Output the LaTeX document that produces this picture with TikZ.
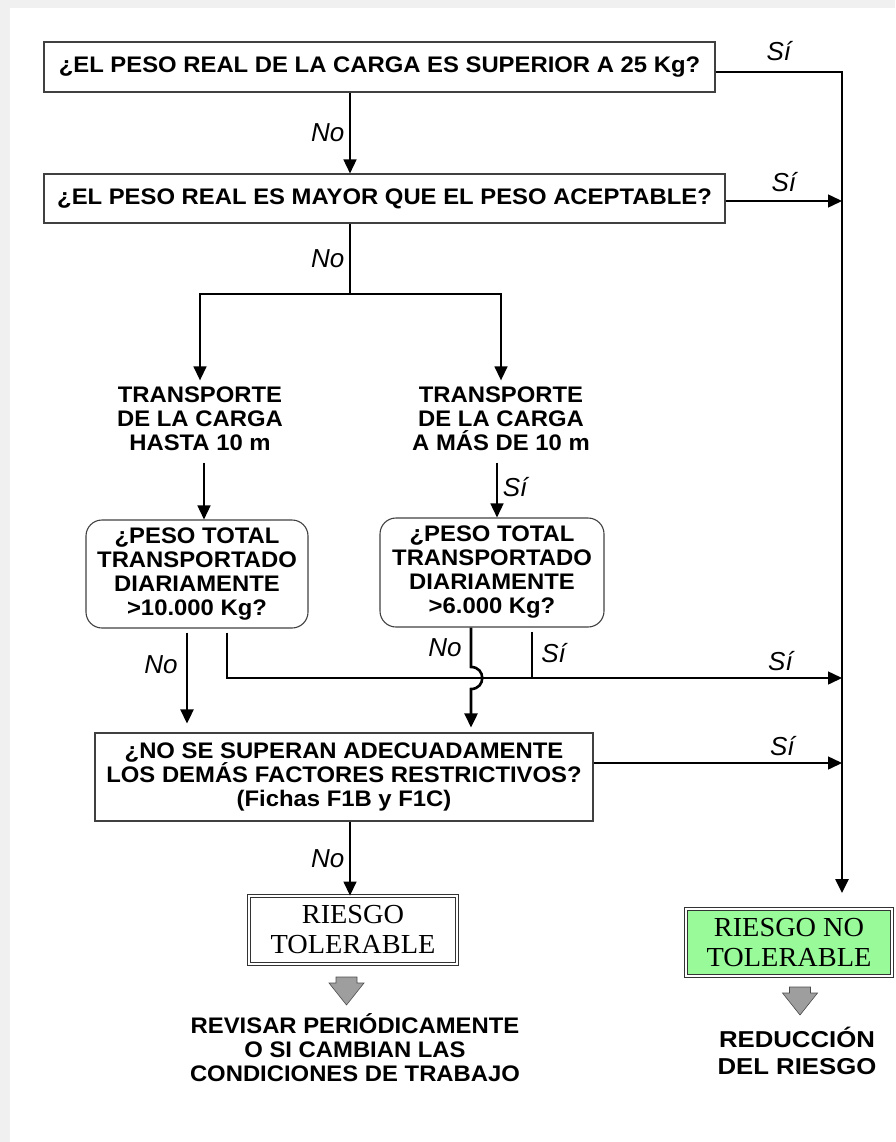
\documentclass[tikz,border=0pt]{standalone}
\usepackage{fontspec}
\setmainfont{Liberation Sans}
\newfontfamily\boxfont{Liberation Sans}[FakeStretch=1.06]
\newfontfamily\widefont{Liberation Sans}[FakeStretch=1.12]
\newfontfamily\riskfont{Liberation Serif}[FakeStretch=1.03]
\usetikzlibrary{arrows.meta,calc}
\definecolor{riskgreen}{RGB}{153,250,153}
\tikzset{
  qbox/.style={draw=black!75,line width=1.1pt,inner sep=0pt,align=center,
    font=\boxfont\bfseries\fontsize{22.5}{24}\selectfont},
  plain/.style={inner sep=6pt,align=center,font=\boxfont\bfseries\fontsize{22.5}{24}\selectfont},
  riskbox/.style={draw=black!80,double,double distance=1.6pt,line width=.9pt,inner sep=0pt,
    align=center,font=\riskfont\fontsize{27.5}{30}\selectfont},
  lbl/.style={font=\itshape\fontsize{26}{26}\selectfont,inner sep=2pt},
  ln/.style={line width=1.5pt},
  thk/.style={line width=2.6pt},
  >={Triangle[length=14pt,width=13pt]}
}
\begin{document}
\begin{tikzpicture}[x=1pt,y=-1pt]
    \useasboundingbox (0,0) rectangle (895,1142);
    \fill[black!6] (0,0) rectangle (895,8);
    \fill[black!6] (0,0) rectangle (10,1142);
    \node[qbox,minimum width=671,minimum height=50] (q1) at (379.5,67) {¿EL PESO REAL DE LA CARGA ES SUPERIOR A 25 Kg?};
    \node[qbox,minimum width=681,minimum height=49] (q2) at (384.5,198.5) {¿EL PESO REAL ES MAYOR QUE EL PESO ACEPTABLE?};
    \node[plain] (trA) at (200,418.5) {TRANSPORTE\\DE LA CARGA\\HASTA 10 m};
    \node[plain] (trB) at (501,418.5) {TRANSPORTE\\DE LA CARGA\\A MÁS DE 10 m};
    \node[qbox,rounded corners=16pt,minimum width=222,minimum height=108] (pA) at (197,574) {¿PESO TOTAL\\TRANSPORTADO\\DIARIAMENTE\\>10.000 Kg?};
    \node[qbox,rounded corners=16pt,minimum width=224,minimum height=109] (pB) at (492,572.5) {¿PESO TOTAL\\TRANSPORTADO\\DIARIAMENTE\\>6.000 Kg?};
    \node[qbox,minimum width=498,minimum height=88] (q3) at (344,777) {¿NO SE SUPERAN ADECUADAMENTE\\LOS DEMÁS FACTORES RESTRICTIVOS?\\(Fichas F1B y F1C)};
    \node[riskbox,minimum width=208,minimum height=68] (tol) at (353,930) {RIESGO\\TOLERABLE};
    \node[riskbox,fill=riskgreen,minimum width=206,minimum height=67] (ntol) at (789,942.5) {RIESGO NO\\TOLERABLE};
    \node[plain] (rev) at (355,1048) {REVISAR PERIÓDICAMENTE\\O SI CAMBIAN LAS\\CONDICIONES DE TRABAJO};
    \node[plain,font=\widefont\bfseries\fontsize{23}{27}\selectfont] (red) at (797,1051) {REDUCCIÓN\\DEL RIESGO};
    \coordinate (mid) at (350,0);
    \coordinate (fork) at (350,294);
    \coordinate (ca) at (204,0);
    \coordinate (cb) at (497,0);
    \coordinate (na) at (187,0);
    \coordinate (sa) at (227,0);
    \coordinate (nb) at (471,0);
    \coordinate (sb) at (532,0);
    \coordinate (hopA) at (471,667);
    \coordinate (hopB) at (471,689);
    \coordinate (rc) at (842,72);
    \coordinate (re) at (842,893);
    \coordinate (h1) at (842,678);
    \coordinate (h2) at (842,763);
    \coordinate (q2e) at ($(q2.east)+(0,2.5)$);
    \draw[thk,->] ($(q1.east)+(0,5)$) -- (rc) node[midway,above=8pt,lbl] {Sí} -- (re);
    \draw[ln,->] (q1.south -| mid) -- (q2.north -| mid) node[midway,left=3pt,lbl] {No};
    \draw[ln,->] (q2e) -- (q2e -| rc) node[midway,above=6pt,lbl] {Sí};
    \draw[ln] (q2.south -| mid) -- (fork) node[midway,left=3pt,lbl] {No};
    \draw[ln,->] (fork) -| (trA.north);
    \draw[ln,->] (fork) -| (trB.north);
    \draw[ln,->,shorten <=6pt] (trA.south -| ca) -- (pA.north -| ca);
    \draw[ln,->,shorten <=6pt] (trB.south -| cb) -- (pB.north -| cb) node[midway,right=3pt,lbl] {Sí};
    \draw[thk,->,shorten <=4pt,shorten >=9pt] (pA.south -| na) -- (q3.north -| na) node[pos=.35,left=6pt,lbl] {No};
    \draw[ln,->,shorten <=4pt] (pA.south -| sa) |- (h1) node[pos=.95,above=5pt,lbl] {Sí};
    \draw[thk,shorten <=4pt] (pB.south -| sb) -- (h1 -| sb) node[midway,right=6pt,lbl] {Sí};
    \draw[thk,->,shorten >=5pt] (pB.south -| nb) -- (hopA) node[midway,left=6pt,lbl] {No}
        .. controls (486,667) and (486,689) .. (hopB) -- (q3.north -| nb);
    \draw[ln,->] (q3.east |- h2) -- (h2) node[pos=.76,above=5pt,lbl] {Sí};
    \draw[ln,->] (q3.south -| mid) -- (tol.north -| mid) node[midway,left=3pt,lbl] {No};
    \foreach \x/\y in {346.5/977,800/987}
        {\filldraw[fill=black!38,draw=black!70,line width=.6pt] (\x-10.5,\y) -- (\x+10.5,\y) -- (\x+10.5,\y+6) -- (\x+17.5,\y+6) -- (\x,\y+28) -- (\x-17.5,\y+6) -- (\x-10.5,\y+6) -- cycle;
        }
\end{tikzpicture}
\end{document}
